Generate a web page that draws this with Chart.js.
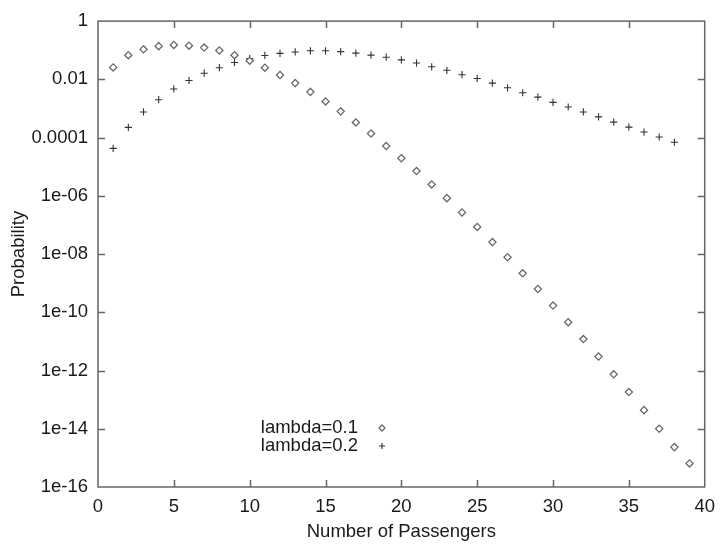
<!DOCTYPE html>
<html>
<head>
<meta charset="utf-8">
<script src="https://cdn.jsdelivr.net/npm/chart.js@4"></script>
<style>
  html, body { margin: 0; padding: 0; background: #ffffff; }
  #wrap { width: 724px; height: 547px; }
</style>
</head>
<body>
<div id="wrap"><canvas id="c" width="724" height="547"></canvas></div>
<script>
// ---- data ----
const passengers01 = [1,2,3,4,5,6,7,8,9,10,11,12,13,14,15,16,17,18,19,20,21,22,23,24,25,26,27,28,29,30,31,32,33,34,35,36,37,38,39];
const log10Prob01 = [-1.59,-1.17,-0.97,-0.86,-0.82,-0.845,-0.91,-1.01,-1.17,-1.36,-1.60,-1.85,-2.13,-2.43,-2.76,-3.10,-3.48,-3.86,-4.29,-4.71,-5.15,-5.61,-6.08,-6.57,-7.07,-7.59,-8.11,-8.66,-9.20,-9.77,-10.34,-10.92,-11.52,-12.13,-12.74,-13.36,-14.0,-14.63,-15.19];
const passengers02 = [1,2,3,4,5,6,7,8,9,10,11,12,13,14,15,16,17,18,19,20,21,22,23,24,25,26,27,28,29,30,31,32,33,34,35,36,37,38];
const log10Prob02 = [-4.37,-3.65,-3.12,-2.70,-2.33,-2.04,-1.79,-1.60,-1.42,-1.29,-1.18,-1.11,-1.06,-1.02,-1.02,-1.05,-1.10,-1.17,-1.24,-1.33,-1.44,-1.57,-1.69,-1.84,-1.97,-2.13,-2.29,-2.46,-2.61,-2.79,-2.95,-3.12,-3.29,-3.47,-3.64,-3.81,-3.98,-4.16];
const seriesLabels = ["lambda=0.1", "lambda=0.2"];
const yTickValues = [1, 1e-2, 1e-4, 1e-6, 1e-8, 1e-10, 1e-12, 1e-14, 1e-16];
const yTickLabels = ["1", "0.01", "0.0001", "1e-06", "1e-08", "1e-10", "1e-12", "1e-14", "1e-16"];
const xTickValues = [0, 5, 10, 15, 20, 25, 30, 35, 40];
const xTitle = "Number of Passengers";
const yTitle = "Probability";

const FONT = "'Liberation Sans', Arial, Helvetica, sans-serif";
const FSIZE = 18.5;
const TEXT = '#1a1a1a';
const FRAME = '#666666';

const toPoints = (xs, ls) => xs.map((x, i) => ({ x: x, y: Math.pow(10, ls[i]) }));

// frame + inward mirrored ticks + legend
const framePlugin = {
  id: 'frameTicks',
  afterDatasetsDraw(chart) {
    const ctx = chart.ctx;
    const a = chart.chartArea;
    const xs = chart.scales.x, ys = chart.scales.y;
    ctx.save();
    ctx.strokeStyle = FRAME;
    ctx.lineWidth = 1.5;
    ctx.strokeRect(a.left, a.top, a.right - a.left, a.bottom - a.top);
    const L = 7;
    ctx.beginPath();
    xTickValues.forEach(v => {
      const px = Math.round(xs.getPixelForValue(v)) + 0.5;
      if (v !== xs.min && v !== xs.max) {
        ctx.moveTo(px, a.bottom); ctx.lineTo(px, a.bottom - L);
        ctx.moveTo(px, a.top); ctx.lineTo(px, a.top + L);
      }
    });
    yTickValues.forEach(v => {
      const py = Math.round(ys.getPixelForValue(v)) + 0.5;
      if (v !== ys.min && v !== ys.max) {
        ctx.moveTo(a.left, py); ctx.lineTo(a.left + L, py);
        ctx.moveTo(a.right, py); ctx.lineTo(a.right - L, py);
      }
    });
    ctx.stroke();

    // legend (gnuplot style: right-aligned text, symbol to the right)
    const textRight = 358, symX = 382, y0 = 428, dy = 18;
    chart.data.datasets.forEach((ds, i) => {
      const y = y0 + i * dy;
      ctx.font = FSIZE + 'px ' + FONT;
      ctx.fillStyle = TEXT;
      ctx.textAlign = 'right';
      ctx.textBaseline = 'middle';
      ctx.fillText(ds.label, textRight, y);
      ctx.strokeStyle = ds.borderColor;
      ctx.fillStyle = ds.backgroundColor;
      ctx.lineWidth = ds.borderWidth;
      Chart.helpers.drawPoint(ctx, {
        pointStyle: ds.pointStyle, radius: ds.pointRadius - 0.6, rotation: 0, borderWidth: ds.borderWidth
      }, symX, y);
    });
    ctx.restore();
  }
};

new Chart(document.getElementById('c'), {
  type: 'scatter',
  data: {
    datasets: [
      {
        label: seriesLabels[0],
        data: toPoints(passengers01, log10Prob01),
        pointStyle: 'rectRot',
        pointRadius: 3.6,
        pointHoverRadius: 3.6,
        borderColor: '#6a6a6a',
        backgroundColor: '#ffffff',
        borderWidth: 1.3,
        showLine: false
      },
      {
        label: seriesLabels[1],
        data: toPoints(passengers02, log10Prob02),
        pointStyle: 'cross',
        pointRadius: 3.6,
        pointHoverRadius: 3.6,
        borderColor: '#333333',
        backgroundColor: '#333333',
        borderWidth: 1.1,
        showLine: false
      }
    ]
  },
  options: {
    responsive: false,
    animation: false,
    events: [],
    layout: { padding: { top: 14, right: 11, left: 0, bottom: 0 } },
    plugins: {
      legend: { display: false },
      tooltip: { enabled: false }
    },
    scales: {
      x: {
        type: 'linear',
        min: 0, max: 40,
        grid: { display: false, drawTicks: false },
        border: { display: false },
        afterBuildTicks: (s) => { s.ticks = xTickValues.map(v => ({ value: v })); },
        ticks: { color: TEXT, font: { family: FONT, size: FSIZE }, padding: 9, maxRotation: 0, autoSkip: false },
        title: { display: true, text: xTitle, color: TEXT, font: { family: FONT, size: FSIZE }, padding: { top: 0, bottom: 4 } },
        afterFit: (s) => { s.height = 60; }
      },
      y: {
        type: 'logarithmic',
        min: 1e-16, max: 1,
        grid: { display: false, drawTicks: false },
        border: { display: false },
        afterBuildTicks: (s) => { s.ticks = yTickValues.map(v => ({ value: v })); },
        ticks: {
          color: TEXT, font: { family: FONT, size: FSIZE }, padding: 10, autoSkip: false,
          callback: (v) => { const i = yTickValues.findIndex(t => Math.abs(Math.log10(t) - Math.log10(v)) < 1e-6); return i >= 0 ? yTickLabels[i] : ''; }
        },
        title: { display: true, text: yTitle, color: TEXT, font: { family: FONT, size: FSIZE }, padding: { top: 8, bottom: 0 } },
        afterFit: (s) => { s.width = 98; }
      }
    }
  },
  plugins: [framePlugin]
});
</script>
</body>
</html>
